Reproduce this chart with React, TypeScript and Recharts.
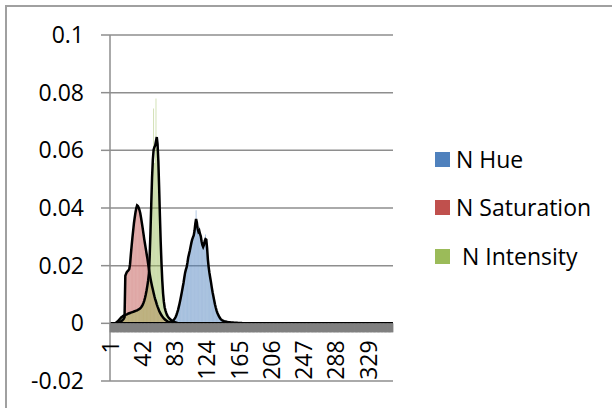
import React from 'react';
import {ComposedChart, Bar, Line, XAxis, YAxis, CartesianGrid, Legend} from 'recharts';

// categorías 1..360 (una por cada valor del histograma)
const CATEGORIES = Array.from({length: 360}, (_, i) => i + 1);
const X_TICK_LABELS = [1, 42, 83, 124, 165, 206, 247, 288, 329];
const Y_TICKS = [-0.02, 0, 0.02, 0.04, 0.06, 0.08, 0.1];
const LEGEND_ORDER = ['N Hue', 'N Saturation', ' N Intensity'];

// N Hue (barras y curva negra), a partir de la categoría 78
const HUE_START = 78;
const hueBars = [
  0.0003, 0.0006, 0.0007, 0.0012, 0.0014, 0.0019, 0.0024, 0.0031, 0.0039, 0.0049,
  0.0059, 0.0072, 0.0085, 0.0099, 0.0115, 0.0128, 0.0146, 0.0162, 0.0181, 0.0184,
  0.0199, 0.0215, 0.0235, 0.0238, 0.0258, 0.0271, 0.0286, 0.0289, 0.0304, 0.0302,
  0.0331, 0.0352, 0.0392, 0.0338, 0.0335, 0.0312, 0.0336, 0.0318, 0.0309, 0.0281,
  0.0279, 0.0262, 0.0281, 0.0296, 0.0308, 0.0284, 0.0268, 0.0215, 0.0199, 0.0172,
  0.0162, 0.0139, 0.0127, 0.0106, 0.0096, 0.0078, 0.0068, 0.0053, 0.0046, 0.0036,
  0.0032, 0.0024, 0.0021, 0.0015, 0.0014, 0.001, 0.001, 0.0007, 0.0008, 0.0006,
  0.0006, 0.0005, 0.0005, 0.0004, 0.0004, 0.0004, 0.0003, 0.0003, 0.0003, 0.0003,
  0.0002, 0.0002, 0.0002, 0.0002, 0.0002, 0.0001, 0.0001, 0.0001, 0.0001, 0.0001,
  0.0001,
];
const hueLine = [
  0.0003, 0.0005, 0.0008, 0.001, 0.0013, 0.0017, 0.0022, 0.0029, 0.0037, 0.0046,
  0.0057, 0.0069, 0.0082, 0.0096, 0.011, 0.0125, 0.014, 0.0158, 0.0175, 0.0186,
  0.0195, 0.021, 0.0228, 0.024, 0.0252, 0.0266, 0.0279, 0.029, 0.0298, 0.0305,
  0.032, 0.0345, 0.0362, 0.035, 0.0328, 0.0318, 0.0322, 0.031, 0.0302, 0.0285,
  0.0272, 0.0265, 0.0272, 0.0285, 0.0292, 0.029, 0.0262, 0.0222, 0.0195, 0.0175,
  0.0158, 0.0142, 0.0124, 0.0108, 0.0094, 0.008, 0.0066, 0.0055, 0.0045, 0.0037,
  0.0031, 0.0025, 0.002, 0.0016, 0.0013, 0.0011, 0.0009, 0.0008, 0.0007, 0.0006,
  0.0006, 0.0005, 0.0005, 0.0004, 0.0004, 0.0004, 0.0003, 0.0003, 0.0003, 0.0003,
  0.0002, 0.0002, 0.0002, 0.0002, 0.0002, 0.0001, 0.0001, 0.0001, 0.0001, 0.0001,
  0.0001,
];

// N Saturation, a partir de la categoría 12
const SAT_START = 12;
const satBars = [
  0.0002, 0.0005, 0.0005, 0.0009, 0.0011, 0.0012, 0.0018, 0.0022, 0.0168, 0.0176,
  0.0175, 0.0186, 0.0182, 0.0192, 0.0214, 0.0245, 0.0264, 0.0303, 0.0318, 0.0355,
  0.0364, 0.0392, 0.0398, 0.0414, 0.0403, 0.0405, 0.0389, 0.0384, 0.0361, 0.0352,
  0.0327, 0.0316, 0.0289, 0.0279, 0.0255, 0.0246, 0.0221, 0.0209, 0.0184, 0.0173,
  0.0153, 0.0144, 0.0126, 0.0119, 0.0102, 0.0096, 0.0082, 0.0077, 0.0064, 0.006,
  0.0049, 0.0046, 0.0037, 0.0034, 0.0027, 0.0025, 0.0019, 0.0018, 0.0013, 0.0012,
  0.0009, 0.0008, 0.0006, 0.0005, 0.0004, 0.0003, 0.0002, 0.0002, 0.0001,
];
const satLine = [
  0.0002, 0.0004, 0.0006, 0.0008, 0.001, 0.0013, 0.0016, 0.0021, 0.0165, 0.0172,
  0.0178, 0.0181, 0.0184, 0.0188, 0.0205, 0.0238, 0.0268, 0.0296, 0.0322, 0.0348,
  0.0368, 0.0386, 0.04, 0.0409, 0.0407, 0.0401, 0.0393, 0.0382, 0.0366, 0.0349,
  0.0331, 0.0312, 0.0293, 0.0276, 0.0259, 0.0242, 0.0226, 0.0207, 0.0188, 0.0171,
  0.0156, 0.0142, 0.0129, 0.0117, 0.0105, 0.0094, 0.0084, 0.0075, 0.0066, 0.0058,
  0.0051, 0.0044, 0.0038, 0.0033, 0.0028, 0.0024, 0.002, 0.0017, 0.0014, 0.0012,
  0.001, 0.0008, 0.0006, 0.0005, 0.0004, 0.0003, 0.0002, 0.0002, 0.0001,
];

// N Intensity, a partir de la categoría 8
const INT_START = 8;
const intBars = [
  0.0002, 0.0004, 0.0007, 0.0008, 0.0013, 0.0016, 0.0017, 0.0022, 0.0024, 0.0024,
  0.0028, 0.0027, 0.003, 0.003, 0.0032, 0.0033, 0.0035, 0.0034, 0.0037, 0.0037,
  0.0039, 0.0038, 0.0041, 0.0041, 0.0043, 0.0042, 0.0045, 0.0045, 0.0048, 0.0047,
  0.0051, 0.0053, 0.0056, 0.006, 0.0066, 0.0071, 0.008, 0.009, 0.0103, 0.0116,
  0.0133, 0.015, 0.0178, 0.0262, 0.0345, 0.0452, 0.0528, 0.0562, 0.0745, 0.0556,
  0.0612, 0.078, 0.0608, 0.0636, 0.0548, 0.0458, 0.0358, 0.0272, 0.0198, 0.0142,
  0.0098, 0.0072, 0.0054, 0.0044, 0.0035, 0.0028, 0.0024, 0.0019, 0.0017, 0.0013,
  0.0012, 0.0009, 0.0008, 0.0006, 0.0005, 0.0004, 0.0003, 0.0002, 0.0001,
];
const intLine = [
  0.0002, 0.0004, 0.0006, 0.0009, 0.0012, 0.0015, 0.0018, 0.0021, 0.0023, 0.0025,
  0.0027, 0.0028, 0.0029, 0.003, 0.0031, 0.0033, 0.0034, 0.0035, 0.0036, 0.0037,
  0.0038, 0.0039, 0.004, 0.0041, 0.0042, 0.0043, 0.0044, 0.0045, 0.0047, 0.0048,
  0.005, 0.0052, 0.0055, 0.0059, 0.0064, 0.007, 0.0078, 0.0088, 0.01, 0.0114,
  0.013, 0.0148, 0.0172, 0.0235, 0.0318, 0.0415, 0.0505, 0.0568, 0.0602, 0.0611,
  0.0617, 0.0632, 0.0646, 0.0622, 0.0562, 0.0472, 0.0372, 0.0282, 0.0208, 0.0148,
  0.0104, 0.0075, 0.0056, 0.0045, 0.0036, 0.0029, 0.0024, 0.002, 0.0017, 0.0014,
  0.0012, 0.001, 0.0008, 0.0006, 0.0005, 0.0004, 0.0003, 0.0002, 0.0001,
];

const COLORS = {
  hue: '#4F81BD',
  sat: '#C0504D',
  int: '#9BBB59',
};

const FONT = "'Open Sans', sans-serif";
const WIDTH = 612;
const HEIGHT = 408;
const PLOT_TOP = 35;
const PLOT_BOTTOM = 381;
const Y_MIN = -0.02;
const Y_MAX = 0.1;
// el eje de categorías cruza en y = 0
const ZERO_Y = PLOT_TOP + ((PLOT_BOTTOM - PLOT_TOP) * Y_MAX) / (Y_MAX - Y_MIN);

const valueAt = (arr: number[], start: number, cat: number) => arr[cat - start] ?? 0;

const data = CATEGORIES.map((cat) => ({
  cat,
  hue: valueAt(hueBars, HUE_START, cat),
  sat: valueAt(satBars, SAT_START, cat),
  int: valueAt(intBars, INT_START, cat),
  hueLine: valueAt(hueLine, HUE_START, cat),
  satLine: valueAt(satLine, SAT_START, cat),
  intLine: valueAt(intLine, INT_START, cat),
}));

const CategoryTick = (props: any) => {
  const {x, payload} = props;
  const showLabel = X_TICK_LABELS.includes(payload.value);
  const ly = ZERO_Y + 17;
  return (
    <g>
      <line x1={x} x2={x} y1={ZERO_Y} y2={ZERO_Y + 9} stroke='#808080' strokeWidth={1.6} />
      {showLabel && (
        <text
          x={x}
          y={ly}
          dy='0.36em'
          transform={`rotate(-90, ${x}, ${ly})`}
          textAnchor='end'
          fontSize={23}
          fill='#000'
        >
          {payload.value}
        </text>
      )}
    </g>
  );
};

const LegendContent = (props: any) => {
  const items = (props.payload || [])
    .filter((p: any) => p.type !== 'none')
    .sort((a: any, b: any) => LEGEND_ORDER.indexOf(a.value) - LEGEND_ORDER.indexOf(b.value));
  return (
    <div style={{display: 'flex', flexDirection: 'column'}}>
      {items.map((entry: any) => (
        <div key={entry.value} style={{display: 'flex', alignItems: 'center', height: 48.5}}>
          <span style={{width: 15, height: 15, background: entry.color, marginRight: 6, flex: 'none'}} />
          <span style={{fontSize: 23, color: '#000', whiteSpace: 'pre', lineHeight: 1}}>{entry.value}</span>
        </div>
      ))}
    </div>
  );
};

export default function App() {
  return (
    <div
      style={{
        position: 'absolute',
        left: 0,
        top: 0,
        width: WIDTH,
        height: HEIGHT,
        overflow: 'hidden',
        background: '#fff',
        fontFamily: FONT,
      }}
    >
      <div
        style={{
          position: 'absolute',
          left: 5,
          top: 5,
          width: WIDTH + 20,
          height: HEIGHT + 20,
          borderTop: '2px solid #a0a0a0',
          borderLeft: '2px solid #a0a0a0',
        }}
      />
      <ComposedChart
        width={WIDTH}
        height={HEIGHT}
        data={data}
        margin={{top: PLOT_TOP, right: 219, bottom: HEIGHT - PLOT_BOTTOM - 1, left: 0}}
        barGap='-100%'
        barCategoryGap={0}
      >
        <CartesianGrid vertical={false} stroke='#8e8e8e' strokeWidth={1.5} />
        <XAxis
          dataKey='cat'
          interval={0}
          height={1}
          axisLine={false}
          tickLine={false}
          tick={(p: any) => <CategoryTick {...p} />}
        />
        <YAxis
          width={110}
          domain={[Y_MIN, Y_MAX]}
          ticks={Y_TICKS}
          allowDataOverflow
          tickFormatter={(v: number) => String(v)}
          axisLine={{stroke: '#8e8e8e', strokeWidth: 1.5}}
          tickLine={{stroke: '#8e8e8e', strokeWidth: 1.5}}
          tickSize={9}
          tickMargin={17}
          tick={{fontSize: 23, fill: '#000'}}
        />
        <Bar dataKey='hue' name='N Hue' fill={COLORS.hue} fillOpacity={0.55} legendType='square' isAnimationActive={false} />
        <Bar dataKey='sat' name='N Saturation' fill={COLORS.sat} fillOpacity={0.55} legendType='square' isAnimationActive={false} />
        <Bar dataKey='int' name=' N Intensity' fill={COLORS.int} fillOpacity={0.55} legendType='square' isAnimationActive={false} />
        <Line dataKey='hueLine' stroke='#000' strokeWidth={2.5} dot={false} legendType='none' isAnimationActive={false} />
        <Line dataKey='satLine' stroke='#000' strokeWidth={2.5} dot={false} legendType='none' isAnimationActive={false} />
        <Line dataKey='intLine' stroke='#000' strokeWidth={2.5} dot={false} legendType='none' isAnimationActive={false} />
        <Legend
          layout='vertical'
          align='center'
          verticalAlign='middle'
          itemSorter={null as any}
          content={(p: any) => <LegendContent {...p} />}
          wrapperStyle={{left: 435, top: 135, width: 175}}
        />
      </ComposedChart>
    </div>
  );
}
